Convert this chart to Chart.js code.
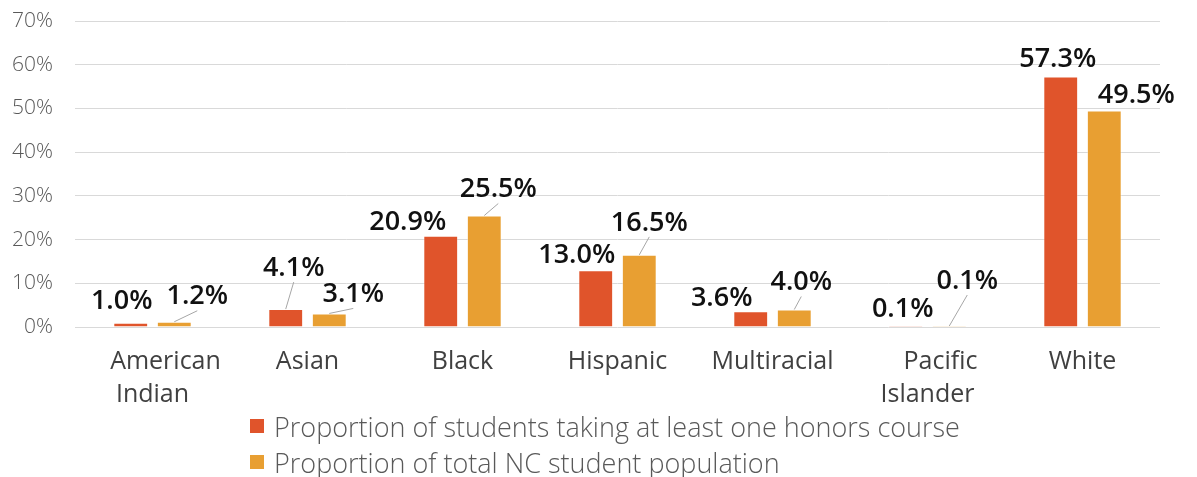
<!DOCTYPE html>
<html>
<head>
<meta charset="utf-8">
<script src="https://cdn.jsdelivr.net/npm/chart.js@4/dist/chart.umd.min.js"></script>
<style>
  html, body { margin: 0; padding: 0; background: #fff; }
  #wrap { position: relative; width: 1197px; height: 477px; }
  #chart { position: absolute; left: 0; top: 0; }
  .legend { position: absolute; left: 250px; font-family: "Open Sans", sans-serif; font-size: 27px; font-weight: 300; color: #595959; white-space: nowrap; }
  .legend .row { height: 36px; display: flex; align-items: center; }
  .legend .sw { width: 14px; height: 14px; margin-right: 10px; display: inline-block; }
</style>
</head>
<body>
<div id="wrap">
  <canvas id="chart" width="1197" height="477"></canvas>
  <div class="legend" id="legend" style="top:408px"></div>
</div>
<script>
// Racial/ethnic groups on the x axis
const categories = [
  ['    American', 'Indian'],
  'Asian',
  'Black',
  'Hispanic',
  'Multiracial',
  ['    Pacific', 'Islander'],
  'White'
];
const seriesNames = [
  'Proportion of students taking at least one honors course',
  'Proportion of total NC student population'
];
const honorsShare = [1.0, 4.1, 20.9, 13.0, 3.6, 0.1, 57.3];
const populationShare = [1.2, 3.1, 25.5, 16.5, 4.0, 0.1, 49.5];
const yTicks = [0, 10, 20, 30, 40, 50, 60, 70];

const colors = ['#E0542B', '#E89F32'];

// Where each value label sits relative to the top centre of its bar: [dx, dy, leader line]
const labelPlacement = [
  [[-9, -21, false], [8, -41, true], [-33, -13, false], [-19, -15, false], [-29, -13, false], [-3, -17, false], [-3, -17, false]],
  [[23, -25, true], [24, -19, true], [14, -26, true], [10, -32, true], [7, -27, true], [18, -45, true], [32, -15, false]]
];

const valueLabels = {
  id: 'valueLabels',
  afterDatasetsDraw(chart) {
    const ctx = chart.ctx;
    ctx.save();
    chart.data.datasets.forEach((ds, di) => {
      const meta = chart.getDatasetMeta(di);
      meta.data.forEach((bar, i) => {
        const [dx, dy, leader] = labelPlacement[di][i];
        const lx = bar.x + dx, ly = bar.y + dy;
        if (leader) {
          ctx.strokeStyle = '#A6A6A6';
          ctx.lineWidth = 1;
          ctx.beginPath();
          ctx.moveTo(bar.x, bar.y);
          ctx.lineTo(lx, ly + 14);
          ctx.stroke();
        }
        ctx.fillStyle = '#111';
        ctx.font = '600 27px "Open Sans", sans-serif';
        ctx.textAlign = 'center';
        ctx.textBaseline = 'middle';
        ctx.fillText(ds.data[i].toFixed(1) + '%', lx, ly);
      });
    });
    ctx.restore();
  }
};

new Chart(document.getElementById('chart'), {
  type: 'bar',
  data: {
    labels: categories,
    datasets: [
      { label: seriesNames[0], data: honorsShare, backgroundColor: colors[0], borderColor: 'rgba(255,255,255,0.35)', borderWidth: 1, minBarLength: 1 },
      { label: seriesNames[1], data: populationShare, backgroundColor: colors[1], borderColor: 'rgba(255,255,255,0.35)', borderWidth: 1, minBarLength: 1 }
    ]
  },
  options: {
    responsive: false,
    animation: false,
    layout: { padding: { top: 21, right: 37, bottom: 0, left: 0 } },
    datasets: { bar: { categoryPercentage: 0.562, barPercentage: 0.8 } },
    plugins: { legend: { display: false }, tooltip: { enabled: false } },
    scales: {
      x: {
        grid: { display: false },
        border: { display: false },
        ticks: {
          font: { family: 'Open Sans', size: 25, lineHeight: 1.33 },
          color: '#404040',
          padding: 10,
          maxRotation: 0,
          autoSkip: false
        },
        afterFit(scale) { scale.height = 150; }
      },
      y: {
        min: 0,
        max: 70,
        afterBuildTicks(scale) { scale.ticks = yTicks.map(v => ({ value: v })); },
        grid: { color: '#D9D9D9', lineWidth: 1, drawTicks: false },
        border: { display: false },
        ticks: {
          font: { family: 'Open Sans', size: 21, weight: '300' },
          color: '#595959',
          padding: 22,
          callback: v => v + '%'
        },
        afterFit(scale) {
          scale.width = 75;
          scale.paddingTop = 0;
          scale.paddingBottom = 0;
        }
      }
    }
  },
  plugins: [valueLabels]
});

// Two-row legend below the plot
const legend = document.getElementById('legend');
seriesNames.forEach((name, i) => {
  const row = document.createElement('div');
  row.className = 'row';
  const sw = document.createElement('span');
  sw.className = 'sw';
  sw.style.background = colors[i];
  const txt = document.createElement('span');
  txt.textContent = name;
  row.appendChild(sw);
  row.appendChild(txt);
  legend.appendChild(row);
});
</script>
</body>
</html>
